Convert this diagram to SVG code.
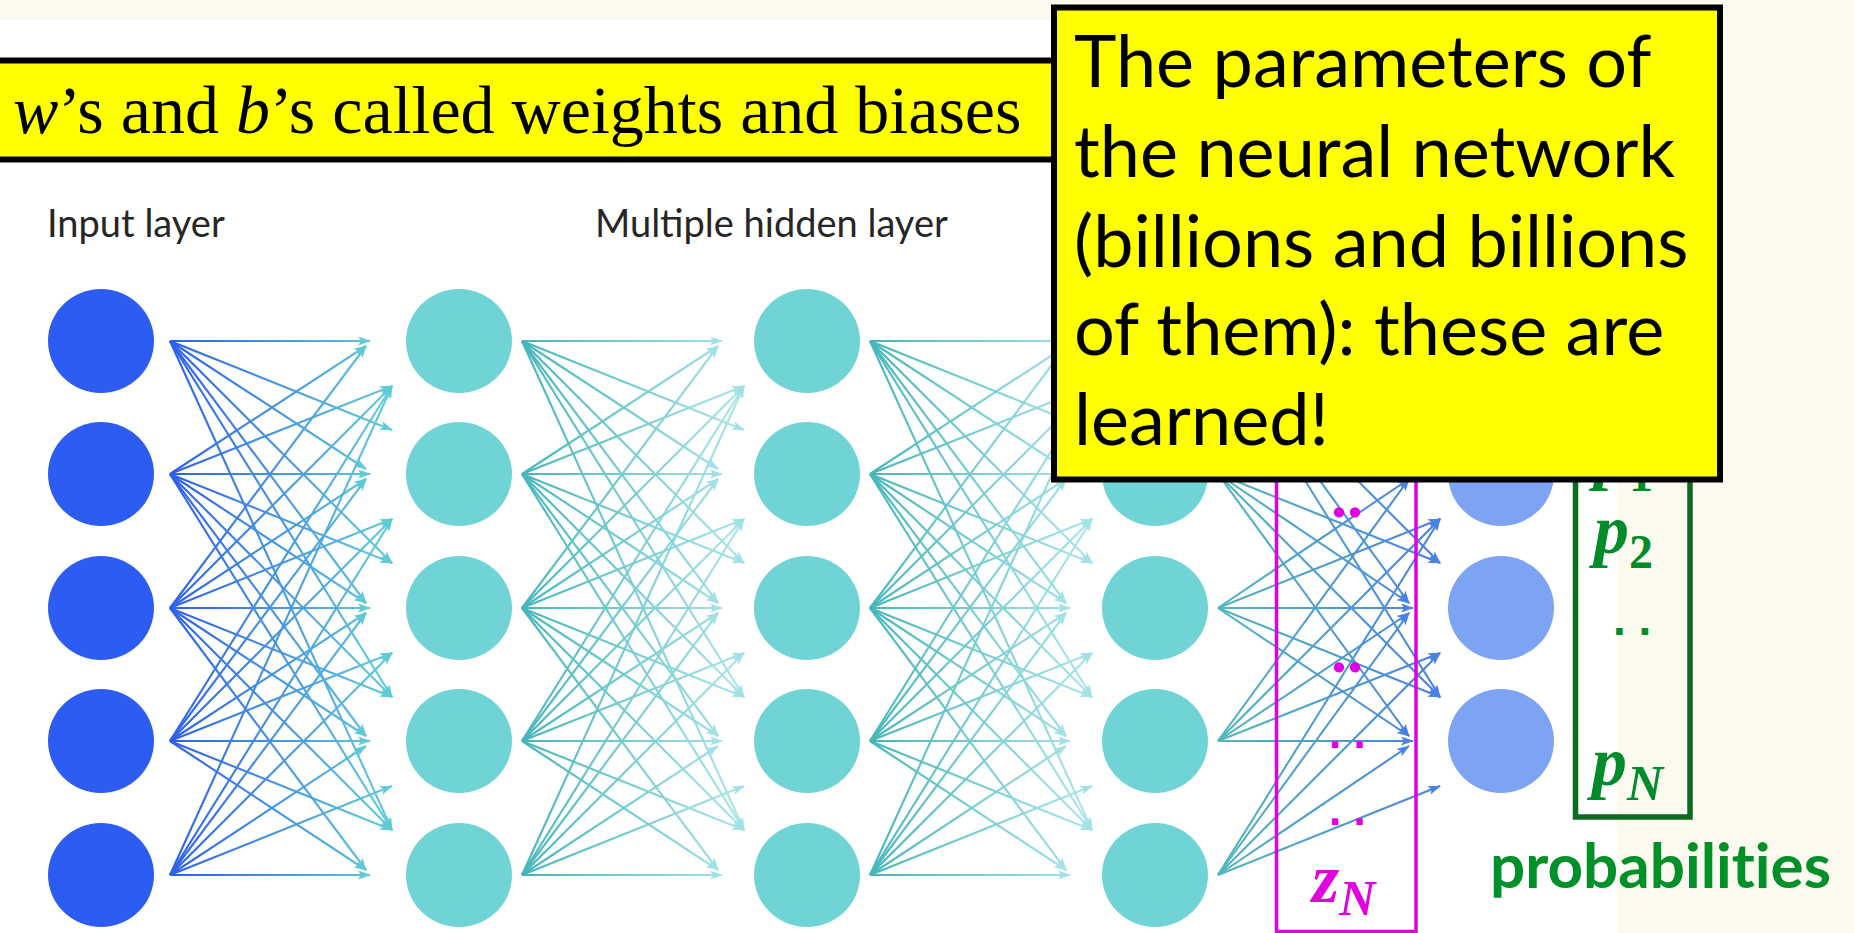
<svg xmlns="http://www.w3.org/2000/svg" width="1854" height="933" viewBox="0 0 1854 933">
<defs>
<style>
.cn line{stroke-width:2.1;fill:none}
.l1 line{stroke:url(#g1);marker-end:url(#m1)}
.l2 line{stroke:url(#g2);marker-end:url(#m2)}
.l4 line{stroke:url(#g4);marker-end:url(#m4)}
.inp{fill:#2c5cf2}
.hid{fill:#70d4d7}
.out{fill:#7da4f2}
.lbl{font-family:Lato,"Noto Sans",sans-serif;font-size:38px;fill:#262626}
.box{fill:#ffff00;stroke:#000;stroke-width:6}
.big{font-family:Lato,"Open Sans",sans-serif;font-size:72px;fill:#000;font-variant-ligatures:none}
.m{font-family:"Liberation Serif",serif;font-weight:bold}
.mag{fill:#e100e1}
.grn{fill:#008c2a}
</style>
<linearGradient id="g1" gradientUnits="userSpaceOnUse" x1="0" y1="0" x2="222" y2="0"><stop offset="0" stop-color="#2c5fea"/><stop offset="1" stop-color="#63cfd8"/></linearGradient>
<linearGradient id="g2" gradientUnits="userSpaceOnUse" x1="0" y1="0" x2="222" y2="0"><stop offset="0" stop-color="#45b6bb"/><stop offset="1" stop-color="#ade6ea"/></linearGradient>
<linearGradient id="g4" gradientUnits="userSpaceOnUse" x1="0" y1="0" x2="222" y2="0"><stop offset="0" stop-color="#52b7bc"/><stop offset="1" stop-color="#4a80e6"/></linearGradient>
<marker id="m1" markerWidth="13" markerHeight="9" refX="12" refY="4.5" orient="auto" markerUnits="userSpaceOnUse"><path d="M0,0 L13,4.5 L0,9 L3,4.5 z" fill="#5ecbd6"/></marker>
<marker id="m2" markerWidth="13" markerHeight="9" refX="12" refY="4.5" orient="auto" markerUnits="userSpaceOnUse"><path d="M0,0 L13,4.5 L0,9 L3,4.5 z" fill="#a2e2e6"/></marker>
<marker id="m4" markerWidth="13" markerHeight="9" refX="12" refY="4.5" orient="auto" markerUnits="userSpaceOnUse"><path d="M0,0 L13,4.5 L0,9 L3,4.5 z" fill="#4a82e4"/></marker>
</defs>
<rect x="0" y="0" width="1854" height="933" fill="#fcf9ee"/>
<rect x="0" y="20" width="1617" height="913" fill="#ffffff"/>

<text class="lbl" x="47" y="237">Input layer</text>
<text class="lbl" x="595" y="237">Multiple hidden layer</text>

<g id="connectors" class="cn">
<g class="l1" transform="translate(170,0)">
<line x1="0" y1="341" x2="200" y2="341"/><line x1="0" y1="341" x2="196" y2="469"/><line x1="0" y1="341" x2="196" y2="603"/><line x1="0" y1="341" x2="222" y2="430"/><line x1="0" y1="341" x2="222" y2="563"/><line x1="0" y1="341" x2="222" y2="697"/><line x1="0" y1="341" x2="222" y2="830"/>
<line x1="0" y1="474" x2="196" y2="346"/><line x1="0" y1="474" x2="200" y2="474"/><line x1="0" y1="474" x2="196" y2="603"/><line x1="0" y1="474" x2="196" y2="736"/><line x1="0" y1="474" x2="222" y2="386"/><line x1="0" y1="474" x2="222" y2="563"/><line x1="0" y1="474" x2="222" y2="697"/><line x1="0" y1="474" x2="222" y2="830"/>
<line x1="0" y1="608" x2="196" y2="346"/><line x1="0" y1="608" x2="196" y2="479"/><line x1="0" y1="608" x2="200" y2="608"/><line x1="0" y1="608" x2="196" y2="736"/><line x1="0" y1="608" x2="196" y2="870"/><line x1="0" y1="608" x2="222" y2="386"/><line x1="0" y1="608" x2="222" y2="519"/><line x1="0" y1="608" x2="222" y2="697"/><line x1="0" y1="608" x2="222" y2="830"/>
<line x1="0" y1="741" x2="196" y2="479"/><line x1="0" y1="741" x2="196" y2="613"/><line x1="0" y1="741" x2="200" y2="741"/><line x1="0" y1="741" x2="196" y2="870"/><line x1="0" y1="741" x2="222" y2="386"/><line x1="0" y1="741" x2="222" y2="519"/><line x1="0" y1="741" x2="222" y2="653"/><line x1="0" y1="741" x2="222" y2="830"/>
<line x1="0" y1="875" x2="196" y2="613"/><line x1="0" y1="875" x2="196" y2="746"/><line x1="0" y1="875" x2="200" y2="875"/><line x1="0" y1="875" x2="222" y2="386"/><line x1="0" y1="875" x2="222" y2="519"/><line x1="0" y1="875" x2="222" y2="653"/><line x1="0" y1="875" x2="222" y2="786"/>
</g>
<g class="l2" transform="translate(522,0)">
<line x1="0" y1="341" x2="200" y2="341"/><line x1="0" y1="341" x2="196" y2="469"/><line x1="0" y1="341" x2="196" y2="603"/><line x1="0" y1="341" x2="222" y2="430"/><line x1="0" y1="341" x2="222" y2="563"/><line x1="0" y1="341" x2="222" y2="697"/><line x1="0" y1="341" x2="222" y2="830"/>
<line x1="0" y1="474" x2="196" y2="346"/><line x1="0" y1="474" x2="200" y2="474"/><line x1="0" y1="474" x2="196" y2="603"/><line x1="0" y1="474" x2="196" y2="736"/><line x1="0" y1="474" x2="222" y2="386"/><line x1="0" y1="474" x2="222" y2="563"/><line x1="0" y1="474" x2="222" y2="697"/><line x1="0" y1="474" x2="222" y2="830"/>
<line x1="0" y1="608" x2="196" y2="346"/><line x1="0" y1="608" x2="196" y2="479"/><line x1="0" y1="608" x2="200" y2="608"/><line x1="0" y1="608" x2="196" y2="736"/><line x1="0" y1="608" x2="196" y2="870"/><line x1="0" y1="608" x2="222" y2="386"/><line x1="0" y1="608" x2="222" y2="519"/><line x1="0" y1="608" x2="222" y2="697"/><line x1="0" y1="608" x2="222" y2="830"/>
<line x1="0" y1="741" x2="196" y2="479"/><line x1="0" y1="741" x2="196" y2="613"/><line x1="0" y1="741" x2="200" y2="741"/><line x1="0" y1="741" x2="196" y2="870"/><line x1="0" y1="741" x2="222" y2="386"/><line x1="0" y1="741" x2="222" y2="519"/><line x1="0" y1="741" x2="222" y2="653"/><line x1="0" y1="741" x2="222" y2="830"/>
<line x1="0" y1="875" x2="196" y2="613"/><line x1="0" y1="875" x2="196" y2="746"/><line x1="0" y1="875" x2="200" y2="875"/><line x1="0" y1="875" x2="222" y2="386"/><line x1="0" y1="875" x2="222" y2="519"/><line x1="0" y1="875" x2="222" y2="653"/><line x1="0" y1="875" x2="222" y2="786"/>
</g>
<g class="l2" transform="translate(870,0)">
<line x1="0" y1="341" x2="200" y2="341"/><line x1="0" y1="341" x2="196" y2="469"/><line x1="0" y1="341" x2="196" y2="603"/><line x1="0" y1="341" x2="222" y2="430"/><line x1="0" y1="341" x2="222" y2="563"/><line x1="0" y1="341" x2="222" y2="697"/><line x1="0" y1="341" x2="222" y2="830"/>
<line x1="0" y1="474" x2="196" y2="346"/><line x1="0" y1="474" x2="200" y2="474"/><line x1="0" y1="474" x2="196" y2="603"/><line x1="0" y1="474" x2="196" y2="736"/><line x1="0" y1="474" x2="222" y2="386"/><line x1="0" y1="474" x2="222" y2="563"/><line x1="0" y1="474" x2="222" y2="697"/><line x1="0" y1="474" x2="222" y2="830"/>
<line x1="0" y1="608" x2="196" y2="346"/><line x1="0" y1="608" x2="196" y2="479"/><line x1="0" y1="608" x2="200" y2="608"/><line x1="0" y1="608" x2="196" y2="736"/><line x1="0" y1="608" x2="196" y2="870"/><line x1="0" y1="608" x2="222" y2="386"/><line x1="0" y1="608" x2="222" y2="519"/><line x1="0" y1="608" x2="222" y2="697"/><line x1="0" y1="608" x2="222" y2="830"/>
<line x1="0" y1="741" x2="196" y2="479"/><line x1="0" y1="741" x2="196" y2="613"/><line x1="0" y1="741" x2="200" y2="741"/><line x1="0" y1="741" x2="196" y2="870"/><line x1="0" y1="741" x2="222" y2="386"/><line x1="0" y1="741" x2="222" y2="519"/><line x1="0" y1="741" x2="222" y2="653"/><line x1="0" y1="741" x2="222" y2="830"/>
<line x1="0" y1="875" x2="196" y2="613"/><line x1="0" y1="875" x2="196" y2="746"/><line x1="0" y1="875" x2="200" y2="875"/><line x1="0" y1="875" x2="222" y2="386"/><line x1="0" y1="875" x2="222" y2="519"/><line x1="0" y1="875" x2="222" y2="653"/><line x1="0" y1="875" x2="222" y2="786"/>
</g>
<g class="l4" transform="translate(1218,0)">
<line x1="0" y1="341" x2="191" y2="469"/><line x1="0" y1="341" x2="191" y2="603"/><line x1="0" y1="341" x2="222" y2="563"/><line x1="0" y1="341" x2="222" y2="697"/>
<line x1="0" y1="474" x2="195" y2="474"/><line x1="0" y1="474" x2="191" y2="603"/><line x1="0" y1="474" x2="191" y2="736"/><line x1="0" y1="474" x2="222" y2="563"/><line x1="0" y1="474" x2="222" y2="697"/>
<line x1="0" y1="608" x2="191" y2="479"/><line x1="0" y1="608" x2="195" y2="608"/><line x1="0" y1="608" x2="191" y2="736"/><line x1="0" y1="608" x2="222" y2="519"/><line x1="0" y1="608" x2="222" y2="697"/>
<line x1="0" y1="741" x2="191" y2="479"/><line x1="0" y1="741" x2="191" y2="613"/><line x1="0" y1="741" x2="195" y2="741"/><line x1="0" y1="741" x2="222" y2="519"/><line x1="0" y1="741" x2="222" y2="653"/>
<line x1="0" y1="875" x2="191" y2="613"/><line x1="0" y1="875" x2="191" y2="746"/><line x1="0" y1="875" x2="222" y2="519"/><line x1="0" y1="875" x2="222" y2="653"/><line x1="0" y1="875" x2="222" y2="786"/>
</g>
</g>

<g id="in1"><ellipse class="inp" cx="101" cy="341" rx="53" ry="52"/></g>
<g id="in2"><ellipse class="inp" cx="101" cy="474" rx="53" ry="52"/></g>
<g id="in3"><ellipse class="inp" cx="101" cy="608" rx="53" ry="52"/></g>
<g id="in4"><ellipse class="inp" cx="101" cy="741" rx="53" ry="52"/></g>
<g id="in5"><ellipse class="inp" cx="101" cy="875" rx="53" ry="52"/></g>
<g id="h1n1"><ellipse class="hid" cx="459" cy="341" rx="53" ry="52"/></g>
<g id="h1n2"><ellipse class="hid" cx="459" cy="474" rx="53" ry="52"/></g>
<g id="h1n3"><ellipse class="hid" cx="459" cy="608" rx="53" ry="52"/></g>
<g id="h1n4"><ellipse class="hid" cx="459" cy="741" rx="53" ry="52"/></g>
<g id="h1n5"><ellipse class="hid" cx="459" cy="875" rx="53" ry="52"/></g>
<g id="h2n1"><ellipse class="hid" cx="807" cy="341" rx="53" ry="52"/></g>
<g id="h2n2"><ellipse class="hid" cx="807" cy="474" rx="53" ry="52"/></g>
<g id="h2n3"><ellipse class="hid" cx="807" cy="608" rx="53" ry="52"/></g>
<g id="h2n4"><ellipse class="hid" cx="807" cy="741" rx="53" ry="52"/></g>
<g id="h2n5"><ellipse class="hid" cx="807" cy="875" rx="53" ry="52"/></g>
<g id="h3n2"><ellipse class="hid" cx="1155" cy="474" rx="53" ry="52"/></g>
<g id="h3n3"><ellipse class="hid" cx="1155" cy="608" rx="53" ry="52"/></g>
<g id="h3n4"><ellipse class="hid" cx="1155" cy="741" rx="53" ry="52"/></g>
<g id="h3n5"><ellipse class="hid" cx="1155" cy="875" rx="53" ry="52"/></g>
<g id="out1"><ellipse class="out" cx="1501" cy="474" rx="53" ry="52"/></g>
<g id="out2"><ellipse class="out" cx="1501" cy="608" rx="53" ry="52"/></g>
<g id="out3"><ellipse class="out" cx="1501" cy="741" rx="53" ry="52"/></g>

<g id="logits">
<rect x="1276.5" y="300" width="139.5" height="631.5" fill="none" stroke="#e100e1" stroke-width="3.5"/>
<text class="m mag" x="1331" y="517" font-size="64">..</text>
<text class="m mag" x="1331" y="672" font-size="64">..</text>
<text class="mag" x="1329" y="748" font-family="Liberation Sans, sans-serif" font-weight="bold" font-size="44">. .</text>
<text class="mag" x="1329" y="825" font-family="Liberation Sans, sans-serif" font-weight="bold" font-size="44">. .</text>
<text class="m mag" x="1312" y="902" font-style="italic"><tspan font-size="70">z</tspan><tspan font-size="50" y="915">N</tspan></text>
</g>

<g id="probs">
<rect x="1575.5" y="300" width="114.5" height="517" fill="none" stroke="#0b6b1f" stroke-width="5.5"/>
<text class="m grn" x="1594" y="476"><tspan font-size="70" font-style="italic">p</tspan><tspan font-size="48" y="491">1</tspan></text>
<text class="m grn" x="1594" y="553"><tspan font-size="70" font-style="italic">p</tspan><tspan font-size="48" y="568">2</tspan></text>
<text class="grn" x="1613" y="635" font-family="Liberation Sans, sans-serif" font-weight="bold" font-size="46">. .</text>
<text class="m grn" x="1592" y="785" font-style="italic"><tspan font-size="70">p</tspan><tspan font-size="50" y="800">N</tspan></text>
<text x="1490" y="888" font-family="Lato, 'Noto Sans', sans-serif" font-weight="bold" font-size="62" fill="#00902a" style="font-variant-ligatures:none">probabilities</text>
</g>

<g id="note-weights">
<rect class="box" x="-10" y="60.5" width="1075" height="99" stroke-width="5"/>
<text x="13" y="133" font-family="'Liberation Serif', serif" font-size="68" fill="#000"><tspan font-style="italic">w</tspan>’s and <tspan font-style="italic">b</tspan>’s called weights and biases</text>
</g>

<g id="note-params">
<rect class="box" x="1054" y="7.5" width="666" height="472"/>
<text class="big" x="1074" y="87">The parameters of</text>
<text class="big" x="1074" y="177">the neural network</text>
<text class="big" x="1074" y="267">(billions and billions</text>
<text class="big" x="1074" y="355">of them): these are</text>
<text class="big" x="1074" y="445">learned!</text>
</g>
</svg>
